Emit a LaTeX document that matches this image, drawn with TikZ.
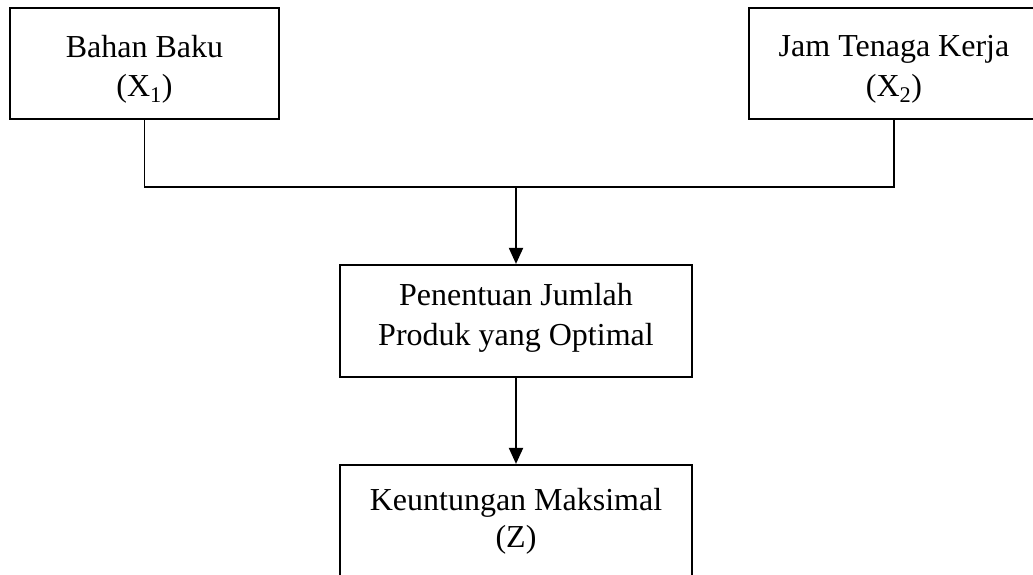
\documentclass[tikz,border=0pt]{standalone}
\usepackage{fontspec}
\setmainfont{Liberation Serif}
\usetikzlibrary{arrows.meta}
\begin{document}
\begin{tikzpicture}[x=1pt,y=-1pt,
  box/.style={draw=black, line width=2.2pt, rectangle, inner sep=0pt},
  txt/.style={inner sep=0pt, anchor=base, font=\fontsize{32}{38}\selectfont},
  conn/.style={draw=black, line width=1.5pt},
  arr/.style={draw=black, line width=2pt, -{Triangle[length=16pt,width=14pt]}}]
\useasboundingbox (0,0) rectangle (1033,574);
\clip (0,0) rectangle (1033,574);
\fill[white] (0,0) rectangle (1033,574);
% boxes
\node[box, minimum width=269pt, minimum height=111pt] (b1) at (144.5,63.5) {};
\node[box, minimum width=290pt, minimum height=111pt] (b2) at (894,63.5) {};
\node[box, minimum width=352pt, minimum height=112pt] (b3) at (516,321) {};
\node[box, minimum width=352pt, minimum height=116pt] (b4) at (516,523) {};
% texts
\node[txt] (t1a) at (144.5,57) {Bahan Baku};
\node[txt] (t1b) at (144.5,96) {(X\textsubscript{1})};
\node[txt] (t2a) at (894,56) {Jam Tenaga Kerja};
\node[txt] (t2b) at (894,96) {(X\textsubscript{2})};
\node[txt] (t3a) at (516,305) {Penentuan Jumlah};
\node[txt] (t3b) at (516,345) {Produk yang Optimal};
\node[txt] (t4a) at (516,510) {Keuntungan Maksimal};
\node[txt] (t4b) at (516,547) {(Z)};
% connectors
\coordinate (j) at (516,187);
\draw[conn] (b1.south) |- (j) -| (b2.south);
\draw[arr] (j) -- (b3.north);
\draw[arr] (b3.south) -- (b4.north);
\end{tikzpicture}
\end{document}
